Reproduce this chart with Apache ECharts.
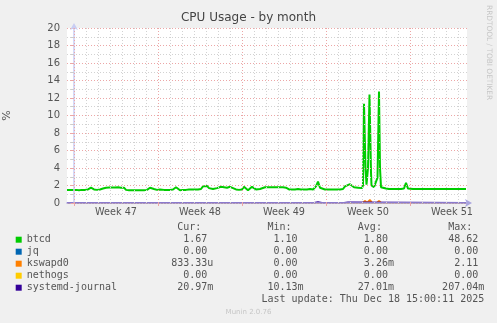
<!DOCTYPE html>
<html>
<head>
<meta charset="utf-8">
<script src="https://cdn.jsdelivr.net/npm/echarts@6/dist/echarts.min.js"></script>
<style>
html,body{margin:0;padding:0;background:#f0f0f0;}
#chart{width:497px;height:323px;}
</style>
</head>
<body>
<div id="chart"></div>
<script>
// ---- data (x in hours from start of Week 47) ----
const weekLabels = ['Week 47', 'Week 48', 'Week 49', 'Week 50', 'Week 51'];
const weekLabelHours = [84, 252, 420, 588, 756];
const weekStartHours = [0, 168, 336, 504, 672];
const dayHours = [];
for (let h = 0; h <= 768; h += 24) dayHours.push(h);

const btcdHours = [-14,-8,-2,4,10,16,22,28,34,40,46,52,58,64,70,76,82,88,94,100,104,110,116,122,128,134,140,146,152,156,160,166,172,176,180,186,192,198,204,208,212,218,224,230,236,242,248,254,258,262,266,270,274,278,282,286,290,294,300,306,312,318,324,330,336,340,344,348,352,356,360,364,368,372,376,382,388,394,400,406,412,418,424,430,436,442,448,454,460,466,472,478,484,488,492,496,502,508,514,520,526,532,538,542,546,552,556,560,564,568,572,576,578,580,583,585,588,591,594,595,600,604,607,610,612,614,618,624,630,636,642,648,654,660,662,664,666,668,672,678,684,690,696,702,708,714,718,722,726,730,736,742,748,754,760,766,772,778,784];
const btcdValues = [1.5,1.5,1.5,1.5,1.45,1.5,1.5,1.55,1.75,1.55,1.5,1.55,1.65,1.75,1.78,1.78,1.78,1.8,1.75,1.75,1.5,1.45,1.45,1.45,1.45,1.45,1.45,1.5,1.75,1.9,1.6,1.5,1.55,1.75,1.5,1.5,1.5,1.55,1.8,1.75,1.45,1.5,1.5,1.55,1.55,1.55,1.55,1.6,1.9,1.75,1.95,1.7,1.85,1.6,1.8,1.7,1.65,1.85,1.8,1.75,1.85,1.7,1.55,1.5,1.55,1.85,1.8,1.45,1.6,1.85,1.75,1.55,1.6,1.6,1.75,1.8,1.8,1.8,1.8,1.8,1.8,1.8,1.75,1.55,1.55,1.55,1.6,1.55,1.55,1.55,1.6,1.55,1.9,2.45,1.75,1.55,1.55,1.55,1.55,1.55,1.55,1.55,1.6,1.9,2.1,2.15,2.05,1.8,1.9,1.75,1.9,1.7,2.0,11.35,4.0,2.1,4.0,12.4,3.5,2.0,1.8,2.0,2.9,12.75,4.0,1.8,1.7,1.65,1.6,1.6,1.6,1.6,1.6,1.65,2.0,2.3,2.2,1.65,1.55,1.6,1.6,1.6,1.6,1.6,1.6,1.6,1.5,1.6,1.5,1.6,1.6,1.6,1.6,1.6,1.6,1.6,1.6,1.6,1.6];

const jqHours = [-14, 784];
const jqValues = [0, 0];
const kswapdHours = [-14, 578, 582, 586, 588, 592, 596, 606, 610, 614, 784];
const kswapdValues = [0, 0, 0.25, 0, 0, 0.35, 0, 0, 0.25, 0, 0];
const nethogsHours = [-14, 784];
const nethogsValues = [0, 0];
const journalHours = [-14, 480, 484, 488, 492, 496, 540, 544, 548, 552, 556, 560, 784];
const journalValues = [0.02, 0.02, 0.1, 0.12, 0.1, 0.02, 0.02, 0.1, 0.1, 0.11, 0.1, 0.02, 0.02];

const seriesNames = ['btcd', 'jq', 'kswapd0', 'nethogs', 'systemd-journal'];
const seriesColors = ['#00cc00', '#0066b3', '#ff8000', '#ffcc00', '#330099'];
const curValues = ['1.67', '0.00', '833.33u', '0.00', '20.97m'];
const minValues = ['1.10', '0.00', '0.00', '0.00', '10.13m'];
const avgValues = ['1.80', '0.00', '3.26m', '0.00', '27.01m'];
const maxValues = ['48.62', '0.00', '2.11', '0.00', '207.04m'];
const headerLabels = ['Cur:', 'Min:', 'Avg:', 'Max:'];
const lastUpdate = 'Last update: Thu Dec 18 15:00:11 2025';

// ---- helpers ----
function pairs(xs, ys) { return xs.map((x, i) => [x, ys[i]]); }
function padTo(s, col) { while (s.length < col) s += ' '; return s; }
const valueEndCols = [31, 46, 61, 76];
const headerCols = [25, 40, 55, 70];
function rowText(i) {
  let s = seriesNames[i];
  [curValues, minValues, avgValues, maxValues].forEach((arr, k) => {
    let v = arr[i];
    if (/\d$/.test(v)) v += ' ';
    s = padTo(s, valueEndCols[k] - v.length) + v;
  });
  return s;
}
let headerText = '';
headerLabels.forEach((h, k) => { headerText = padTo(headerText, headerCols[k]) + h; });
const lastUpdateText = padTo('', 39) + lastUpdate;

const mono = 'DejaVu Sans Mono';
const sans = 'DejaVu Sans';
const textCol = '#555';
const chart = echarts.init(document.getElementById('chart'), null, {renderer: 'canvas'});

const gridLineData = dayHours.filter(h => weekStartHours.indexOf(h) < 0).map(h => ({
  xAxis: h, lineStyle: {color: '#d2d2d2', type: [1, 2], width: 1}
})).concat(weekStartHours.map(h => ({
  xAxis: h, lineStyle: {color: '#eca6a6', type: [1, 2], width: 1}
})));

const dataSeries = [
  [btcdHours, btcdValues, 2],
  [jqHours, jqValues, 1.5],
  [kswapdHours, kswapdValues, 2],
  [nethogsHours, nethogsValues, 1.5],
  [journalHours, journalValues, 1.5]
].map((d, i) => ({
  name: seriesNames[i],
  type: 'line',
  data: pairs(d[0], d[1]),
  showSymbol: false,
  symbol: 'none',
  lineStyle: {color: seriesColors[i], width: d[2]},
  itemStyle: {color: seriesColors[i]},
  z: 3,
  silent: true
}));

chart.setOption({
  animation: false,
  backgroundColor: '#f0f0f0',
  title: {
    text: 'CPU Usage - by month', left: 'center', top: 12, padding: 0,
    textStyle: {fontFamily: sans, fontSize: 12, fontWeight: 'normal', color: '#444'}
  },
  grid: {left: 67, top: 28, width: 400, height: 175, show: true, backgroundColor: '#ffffff', borderWidth: 0,
         containLabel: false, outerBoundsMode: 'none'},
  legend: {
    orient: 'vertical', left: 15.7, top: 233.7, itemWidth: 6, itemHeight: 6, itemGap: 0, padding: 0,
    icon: 'rect', selectedMode: false,
    data: seriesNames.map((n, i) => ({name: n, itemStyle: {color: seriesColors[i]}})),
    formatter: function (name) { return rowText(seriesNames.indexOf(name)); },
    textStyle: {fontFamily: mono, fontSize: 10, color: textCol, lineHeight: 12, padding: 0}
  },
  xAxis: {
    type: 'value', min: -14, max: 786, z: 4,
    axisLine: {show: true, lineStyle: {color: '#a9a4de', width: 1.5}, symbol: ['none', 'arrow'], symbolSize: [6, 7], symbolOffset: [0, 5]},
    axisTick: {show: true, customValues: weekStartHours, length: 3, lineStyle: {color: '#eca6a6'}},
    axisLabel: {
      customValues: weekLabelHours, margin: 4, color: textCol, fontFamily: sans, fontSize: 9.7,
      formatter: function (v) { const i = weekLabelHours.indexOf(v); return i >= 0 ? weekLabels[i] : ''; }
    },
    splitLine: {show: false}
  },
  yAxis: {
    type: 'value', min: 0, max: 20, interval: 2, z: 4,
    name: '%', nameLocation: 'middle', nameGap: 54, nameRotate: 90,
    nameTextStyle: {color: textCol, fontFamily: sans, fontSize: 11},
    axisLine: {show: true, lineStyle: {color: '#c9cdf3', width: 1.5}, symbol: ['none', 'arrow'], symbolSize: [6, 7], symbolOffset: [0, 5]},
    axisTick: {show: true, length: 3, lineStyle: {color: '#eca6a6'}},
    minorTick: {show: true, splitNumber: 2, length: 3, lineStyle: {color: '#cccccc'}},
    axisLabel: {margin: 7, color: textCol, fontFamily: sans, fontSize: 10},
    splitLine: {show: true, lineStyle: {color: '#eca6a6', type: [1, 2], width: 1}},
    minorSplitLine: {show: true, lineStyle: {color: '#d2d2d2', type: [1, 2], width: 1}}
  },
  series: [{
    name: 'gridlines', type: 'line', data: [[-14, 0]], symbol: 'none', silent: true, z: 1,
    lineStyle: {width: 0, opacity: 0},
    markLine: {silent: true, symbol: ['none', 'none'], label: {show: false}, animation: false, data: gridLineData}
  }].concat(dataSeries),
  graphic: [
    {type: 'text', x: 26.7, y: 227.7, silent: true,
     style: {text: headerText, font: '10px "DejaVu Sans Mono"', fill: textCol, textAlign: 'left', textVerticalAlign: 'middle'}},
    {type: 'text', x: 26.7, y: 299.3, silent: true,
     style: {text: lastUpdateText, font: '10px "DejaVu Sans Mono"', fill: textCol, textAlign: 'left', textVerticalAlign: 'middle'}},
    {type: 'text', x: 248.5, y: 312, silent: true,
     style: {text: 'Munin 2.0.76', font: '7px "DejaVu Sans"', fill: '#c6c6c6', textAlign: 'center', textVerticalAlign: 'middle'}},
    {type: 'text', x: 488.5, y: 5, rotation: -Math.PI / 2, silent: true,
     style: {text: 'RRDTOOL / TOBI OETIKER', font: '7.4px "DejaVu Sans"', fill: '#c6c6c6', textAlign: 'left', textVerticalAlign: 'middle'}}
  ]
});
</script>
</body>
</html>
